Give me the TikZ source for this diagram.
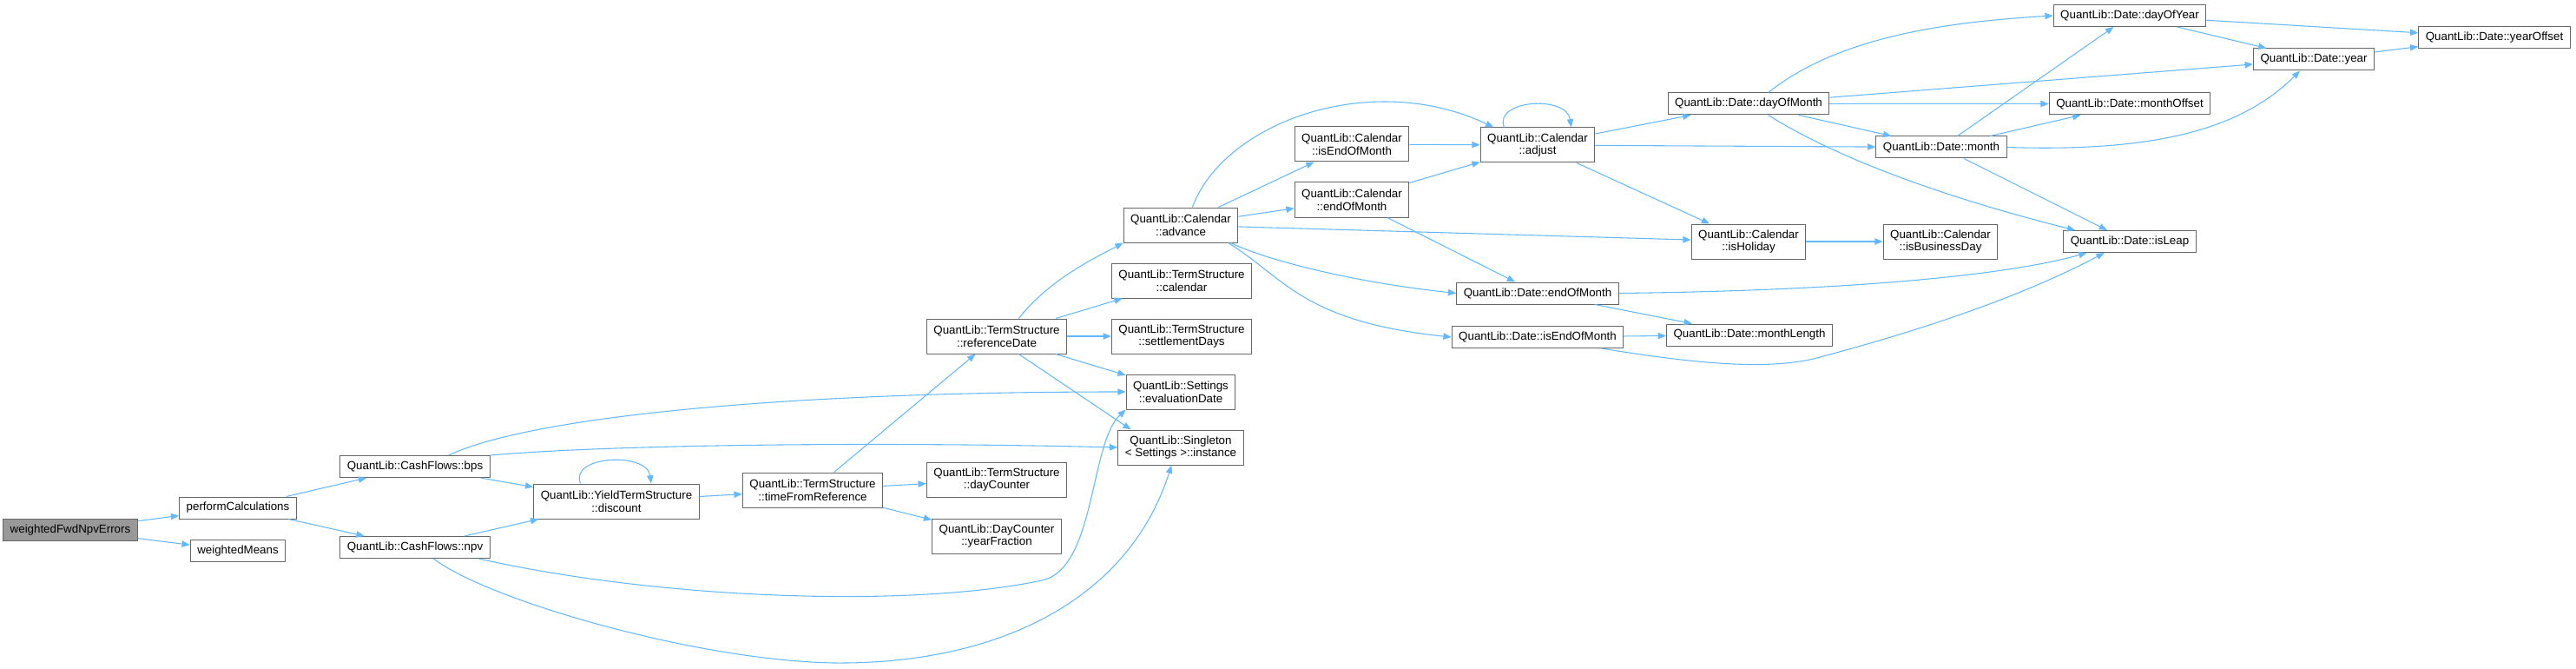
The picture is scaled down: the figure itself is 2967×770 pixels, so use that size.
\documentclass[tikz,border=0pt]{standalone}
\usepackage{fontspec}
\setmainfont{Liberation Sans}
\usepackage{tikz}
\usetikzlibrary{arrows.meta}
\definecolor{edgeblue}{HTML}{63B8FF}
\definecolor{boxgray}{HTML}{666666}
\definecolor{rootgray}{HTML}{999999}

\begin{document}
\begin{tikzpicture}[
    x=0.75pt, y=-0.75pt,
    every node/.style={font=\fontsize{10}{11}\selectfont},
    fn_box/.style={
        rectangle,
        draw=boxgray,
        fill=white,
        line width=0.75pt,
        inner xsep=6pt,
        inner ysep=0pt,
        minimum height=18.75pt,
        align=center
    },
    fn_two/.style={fn_box, minimum height=30pt},
    root_box/.style={fn_box, fill=rootgray},
    arrow/.style={draw=edgeblue, line width=0.8pt, -{Triangle[length=7pt,width=5.5pt]}}
]
\useasboundingbox (0,0) rectangle (2967,770);

\node[root_box] (wfe) at (81,610) {weightedFwdNpvErrors};
\node[fn_box] (perf) at (274,584.5) {performCalculations};
\node[fn_box] (wmeans) at (274,634) {weightedMeans};
\node[fn_box] (bps) at (478,537) {QuantLib::CashFlows::bps};
\node[fn_box] (npv) at (478,630) {QuantLib::CashFlows::npv};
\node[fn_two] (discount) at (710,577) {QuantLib::YieldTermStructure\\::discount};
\node[fn_two] (tfr) at (936,564) {QuantLib::TermStructure\\::timeFromReference};
\node[fn_two] (daycounter) at (1148,552) {QuantLib::TermStructure\\::dayCounter};
\node[fn_two] (yearfrac) at (1148,617) {QuantLib::DayCounter\\::yearFraction};
\node[fn_two] (refdate) at (1148,387) {QuantLib::TermStructure\\::referenceDate};
\node[fn_two] (advance) at (1360,259) {QuantLib::Calendar\\::advance};
\node[fn_two] (tscal) at (1361,323) {QuantLib::TermStructure\\::calendar};
\node[fn_two] (settle) at (1361,387) {QuantLib::TermStructure\\::settlementDays};
\node[fn_two] (evaldate) at (1360,451) {QuantLib::Settings\\::evaluationDate};
\node[fn_two] (instance) at (1360,515) {QuantLib::Singleton\\< Settings >::instance};
\node[fn_two] (calieom) at (1557,166) {QuantLib::Calendar\\::isEndOfMonth};
\node[fn_two] (caleom) at (1557,230) {QuantLib::Calendar\\::endOfMonth};
\node[fn_two] (adjust) at (1771,167) {QuantLib::Calendar\\::adjust};
\node[fn_box] (dom) at (2014,119.5) {QuantLib::Date::dayOfMonth};
\node[fn_two] (isholiday) at (2014,278) {QuantLib::Calendar\\::isHoliday};
\node[fn_box] (deom) at (1771,337.5) {QuantLib::Date::endOfMonth};
\node[fn_box] (dieom) at (1771,388) {QuantLib::Date::isEndOfMonth};
\node[fn_box] (mlen) at (2015,385.5) {QuantLib::Date::monthLength};
\node[fn_box] (doy) at (2453,18) {QuantLib::Date::dayOfYear};
\node[fn_box] (yoff) at (2873,43) {QuantLib::Date::yearOffset};
\node[fn_box] (year) at (2665,68.5) {QuantLib::Date::year};
\node[fn_box] (moff) at (2453,119.5) {QuantLib::Date::monthOffset};
\node[fn_box] (month) at (2236,169.5) {QuantLib::Date::month};
\node[fn_two] (isbiz) at (2235,278) {QuantLib::Calendar\\::isBusinessDay};
\node[fn_box] (isleap) at (2453,278) {QuantLib::Date::isLeap};

\draw[arrow] (wfe) -- (perf);
\draw[arrow] (wfe) -- (wmeans);
\draw[arrow] (perf) -- (bps);
\draw[arrow] (perf) -- (npv);
\draw[arrow] (bps) -- (discount);
\draw[arrow] ([xshift=29pt]bps.north) .. controls (610,480) and (900,451) .. (evaldate.west);
\draw[arrow] (bps.north east) .. controls (700,512) and (1000,508) .. (instance.west);
\draw[arrow] (npv) -- (discount);
\draw[arrow] ([xshift=-10pt]npv.south east) .. controls (760,690) and (1050,700) .. (1200,668)
    .. controls (1262,655) and (1255,510) .. (evaldate.south west);
\draw[arrow] ([xshift=16pt]npv.south) .. controls (560,690) and (800,760) .. (960,763)
    .. controls (1150,765) and (1300,690) .. ([xshift=-8pt]instance.south);
\draw[arrow] ([xshift=-31pt]discount.north) .. controls +(-14,-32) and +(-5,-37) .. ([xshift=30pt]discount.north);
\draw[arrow] (discount) -- (tfr);
\draw[arrow] (tfr) -- (refdate);
\draw[arrow] (tfr) -- (daycounter);
\draw[arrow] (tfr) -- (yearfrac);
\draw[arrow] ([xshift=19pt]refdate.north) .. controls (1210,320) and (1265,295) .. (advance.south west);
\draw[arrow] (refdate) -- (tscal);
\draw[arrow] (refdate) -- (settle);
\draw[arrow] (refdate) -- (evaldate);
\draw[arrow] ([xshift=19pt]refdate.south) -- ([xshift=-43pt]instance.north);
\draw[arrow] ([xshift=10pt]advance.north) .. controls (1410,140) and (1580,80) .. ([xshift=-38pt]adjust.north);
\draw[arrow] (advance) -- (calieom);
\draw[arrow] (advance) -- (caleom);
\draw[arrow] (advance) -- (isholiday);
\draw[arrow] ([xshift=43pt]advance.south) .. controls (1460,300) and (1560,325) .. (deom.west);
\draw[arrow] ([xshift=41pt]advance.south) .. controls (1480,320) and (1500,370) .. (dieom.west);
\draw[arrow] (calieom) -- (adjust);
\draw[arrow] (caleom) -- (adjust);
\draw[arrow] (caleom) -- (deom);
\draw[arrow] ([xshift=-29pt]adjust.north) .. controls +(-12,-32) and +(-5,-37) .. ([xshift=29pt]adjust.north);
\draw[arrow] (adjust) -- (dom);
\draw[arrow] (adjust) -- (month);
\draw[arrow] (adjust) -- (isholiday);
\draw[arrow] (isholiday) -- (isbiz);
\draw[arrow] (deom) -- (mlen);
\draw[arrow] (deom.east) .. controls (2100,335) and (2300,320) .. ([xshift=-37pt]isleap.south);
\draw[arrow] (dieom) -- (mlen);
\draw[arrow] ([xshift=55pt]dieom.south) .. controls (1950,418) and (2040,428) .. (2100,410)
    .. controls (2250,370) and (2350,330) .. ([xshift=-22pt]isleap.south);
\draw[arrow] ([xshift=17pt]dom.north) .. controls (2120,40) and (2250,25) .. (doy.west);
\draw[arrow] (dom) -- (year);
\draw[arrow] (dom) -- (moff);
\draw[arrow] (dom) -- (month);
\draw[arrow] ([xshift=17pt]dom.south) .. controls (2120,185) and (2250,230) .. ([xshift=-47pt]isleap.north);
\draw[arrow] (month) -- (doy);
\draw[arrow] (month) -- (moff);
\draw[arrow] (month.east) .. controls (2480,175) and (2580,150) .. ([xshift=-12pt]year.south);
\draw[arrow] (month) -- (isleap);
\draw[arrow] (doy) -- (year);
\draw[arrow] (doy) -- (yoff);
\draw[arrow] (year) -- (yoff);

\end{tikzpicture}
\end{document}
